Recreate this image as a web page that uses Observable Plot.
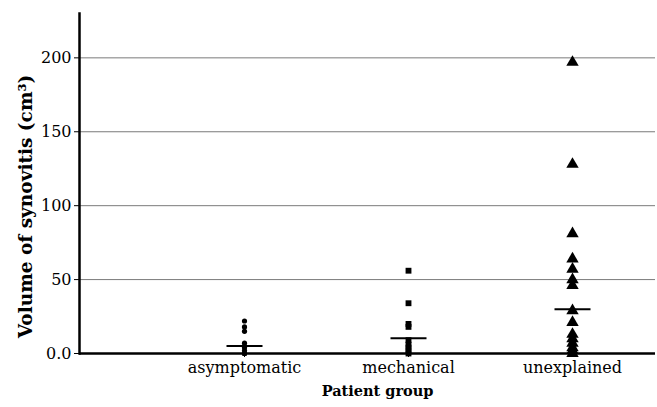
<!DOCTYPE html>
<html><head><meta charset="utf-8">
<script src="https://cdn.jsdelivr.net/npm/d3@7"></script>
<script src="https://cdn.jsdelivr.net/npm/@observablehq/plot@0.6"></script>
<style>body{margin:0;background:#fff}</style>
</head><body><div id="chart"></div>
<script>
const groups = ["asymptomatic", "mechanical", "unexplained"];
const asymptomatic = [22, 18, 15, 7, 4, 2, 0, 0, 0];
const mechanical = [56, 34, 20, 18, 9, 6, 4, 2, 0];
const unexplained = [197, 128, 81, 64, 57, 50, 46, 29, 21, 13, 10, 7, 4, 2, 0];
const medians = [5, 10.4, 30];
const yTicks = [0, 50, 100, 150, 200];
const yTickLabels = ["0.0", "50", "100", "150", "200"];
const yTitle = "Volume of synovitis (cm³)";
const xTitle = "Patient group";

const seriesValues = [asymptomatic, mechanical, unexplained];
const symbols = ["circle", "square", "triangle"];
const radii = [2.6, 3.3, 4.6];
const medianRows = groups.map((g, i) => ({group: g, value: medians[i]}));
const hline = {draw(ctx) { ctx.moveTo(-18, 0); ctx.lineTo(18, 0); }};

const plot = Plot.plot({
  width: 657,
  height: 407,
  marginLeft: 79,
  marginRight: 2,
  marginTop: 13,
  marginBottom: 54,
  style: {fontFamily: "DejaVu Serif", fontSize: "16px", color: "black", background: "white"},
  x: {type: "point", domain: groups, range: [243, 572], padding: 0},
  y: {domain: [0, 230]},
  marks: [
    Plot.gridY(yTicks.filter(d => d > 0), {stroke: "#7a7a7a", strokeOpacity: 1, strokeWidth: 1}),
    Plot.axisY(yTicks, {tickSize: 5, tickPadding: 3, tickFormat: (d) => yTickLabels[yTicks.indexOf(d)], label: null, stroke: "black", fill: "black"}),
    Plot.axisX(groups, {tickSize: 4, tickPadding: 4, label: null, stroke: "black", fill: "black"}),
    ...groups.map((g, i) => Plot.dot(seriesValues[i].map(v => ({group: g, value: v})), {
      x: "group", y: "value", symbol: symbols[i], r: radii[i], fill: "black", stroke: "none"
    })),
    Plot.dot(medianRows, {x: "group", y: "value", symbol: hline, r: 10, stroke: "black", strokeWidth: 2, fill: "none"}),
    Plot.ruleY([0], {stroke: "black", strokeWidth: 2.5}),
    Plot.frame({anchor: "left", stroke: "black", strokeWidth: 2.5}),
    Plot.text([yTitle], {frameAnchor: "left", rotate: -90, dx: -53, dy: 23, fontWeight: "bold", fontSize: 18.5, fill: "black", textAnchor: "middle"}),
    Plot.text([xTitle], {frameAnchor: "bottom", dx: 10, dy: 42, fontWeight: "bold", fontSize: 14.5, fill: "black"})
  ]
});
document.getElementById("chart").appendChild(plot);
</script>
</body></html>
